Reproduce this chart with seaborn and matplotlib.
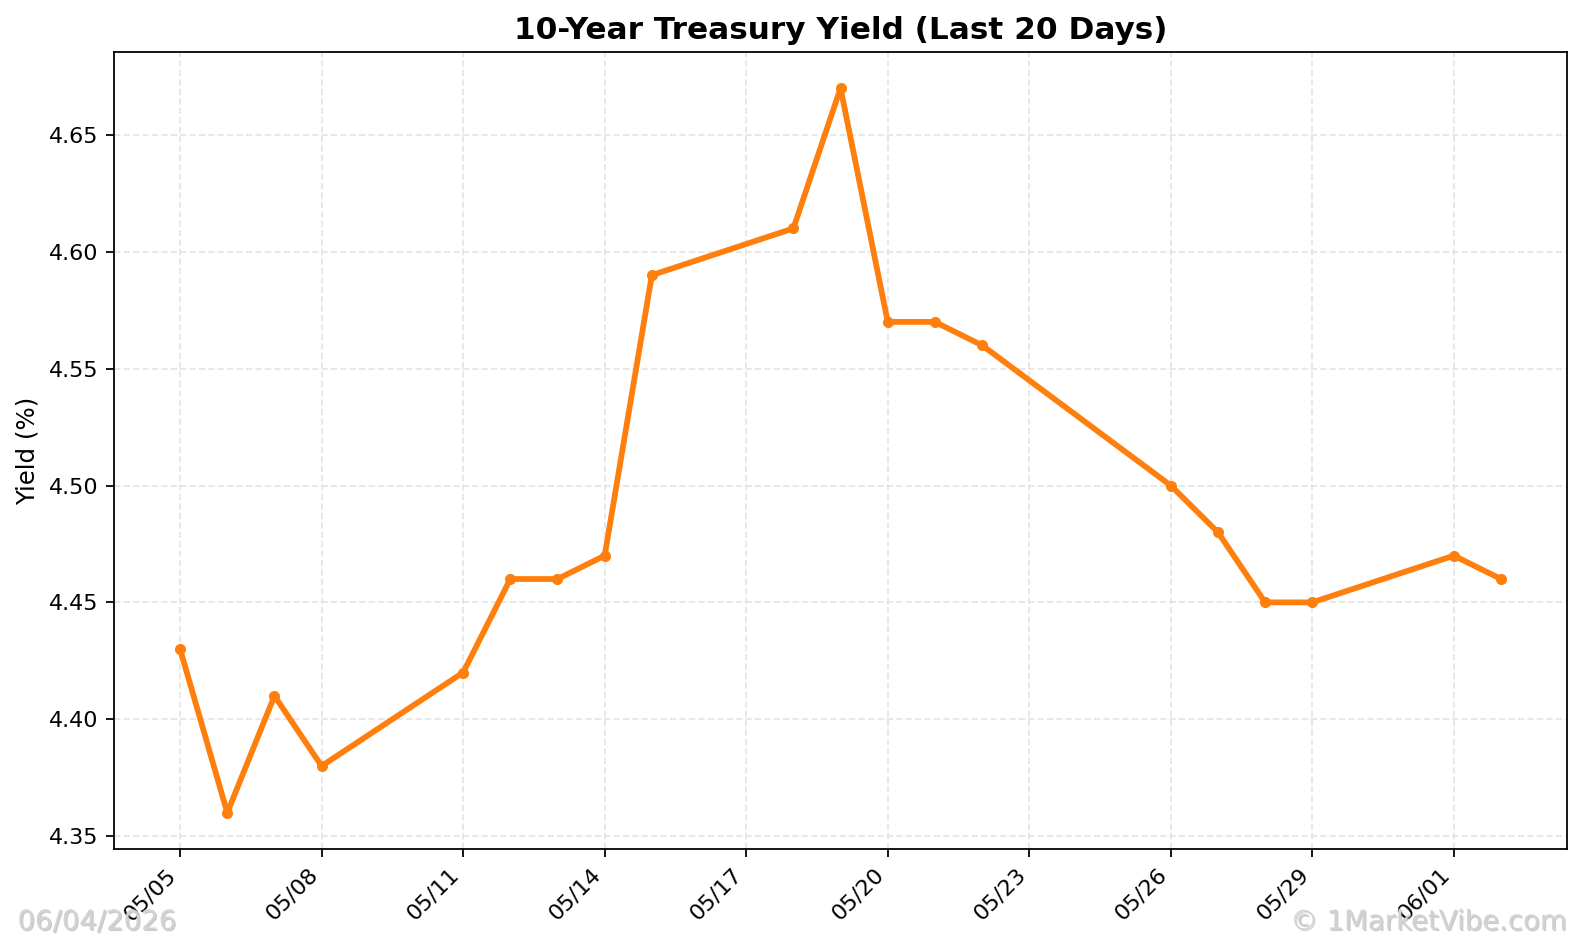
import pandas as pd
import seaborn as sns
import matplotlib
matplotlib.use("Agg")
import matplotlib.pyplot as plt
import matplotlib.dates as mdates
import matplotlib.patheffects as pe

dates = ["2026-05-05", "2026-05-06", "2026-05-07", "2026-05-08", "2026-05-11",
         "2026-05-12", "2026-05-13", "2026-05-14", "2026-05-15", "2026-05-18",
         "2026-05-19", "2026-05-20", "2026-05-21", "2026-05-22", "2026-05-26",
         "2026-05-27", "2026-05-28", "2026-05-29", "2026-06-01", "2026-06-02"]
yields = [4.43, 4.36, 4.41, 4.38, 4.42, 4.46, 4.46, 4.47, 4.59, 4.61,
          4.67, 4.57, 4.57, 4.56, 4.50, 4.48, 4.45, 4.45, 4.47, 4.46]
title = "10-Year Treasury Yield (Last 20 Days)"
date_stamp = "06/04/2026"
credit = "\u00a9 1MarketVibe.com"

df = pd.DataFrame({"date": pd.to_datetime(dates), "yield": yields})

fig = plt.figure(figsize=(9.9, 5.88125), dpi=160)
ax = fig.add_axes([0.072, 0.0978, 0.9173, 0.847])

sns.lineplot(data=df, x="date", y="yield", ax=ax, color="#ff7f0e",
             linewidth=2.6, marker="o", markersize=5, markeredgewidth=0)

ticks = pd.date_range(df["date"].min(), df["date"].max(), freq="3D")
ax.set_xticks(ticks)
ax.xaxis.set_major_formatter(mdates.DateFormatter("%m/%d"))
plt.setp(ax.get_xticklabels(), rotation=45, ha="right")

ax.grid(True, linestyle="--", color="#e0e0e0", linewidth=0.8, alpha=0.8)
ax.set_axisbelow(True)
ax.set_title(title, fontsize=14, fontweight="bold")
ax.set_xlabel("")
ax.set_ylabel("Yield (%)", fontsize=11)

shadow = [pe.SimplePatchShadow(offset=(0.6, -0.6), shadow_rgbFace="#999999", alpha=0.5), pe.Normal()]
fig.text(0.011, 0.012, date_stamp, fontsize=12.4, color="#d2d2d2",
         ha="left", va="baseline", path_effects=shadow)
fig.text(0.989, 0.012, credit, fontsize=12.4, color="#d2d2d2",
         ha="right", va="baseline", path_effects=shadow)

fig.savefig("out.png", dpi=160)
